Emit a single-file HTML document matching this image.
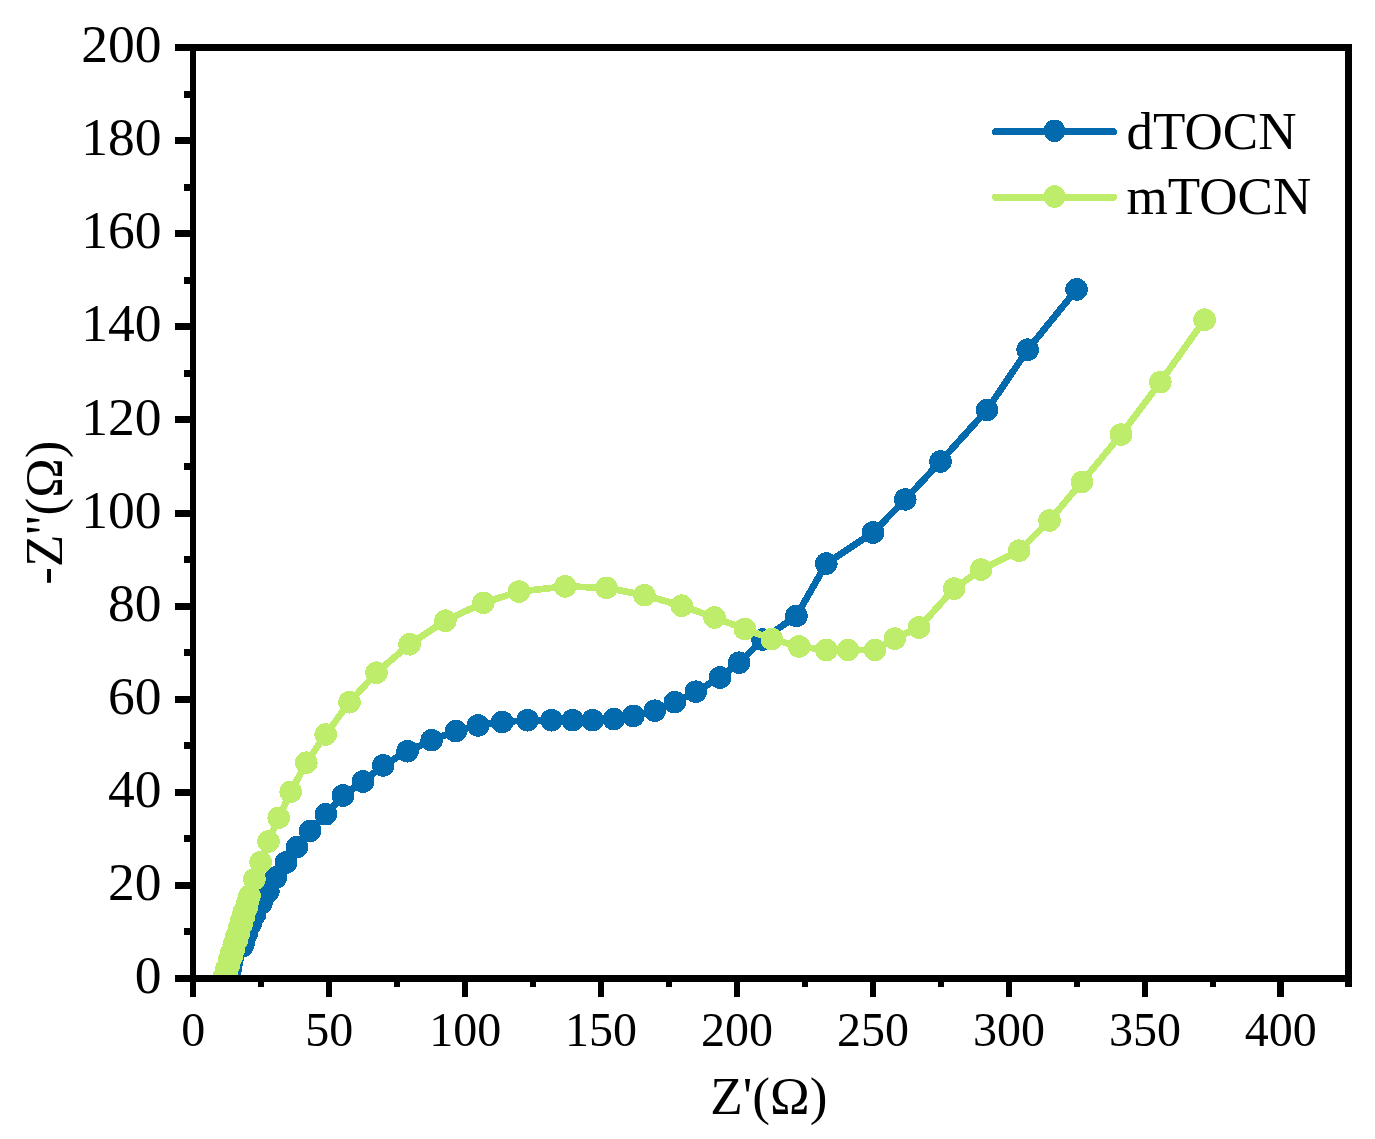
<!DOCTYPE html>
<html lang="en"><head><meta charset="utf-8"><title>Nyquist plot</title>
<style>
html,body{margin:0;padding:0;background:#fff;}
body{width:1375px;height:1139px;overflow:hidden;}
svg{display:block;}
text{font-family:"Liberation Serif","Times New Roman",serif;fill:#000;}
.yt{font-size:52px;text-anchor:end;}
.xt{font-size:48px;text-anchor:middle;}
.ti{font-size:52px;text-anchor:middle;}
.lg{font-size:52px;text-anchor:start;}
</style></head><body>
<svg width="1375" height="1139" viewBox="0 0 1375 1139">
<rect width="1375" height="1139" fill="#fff"/>
<defs><clipPath id="plot"><rect x="193" y="47.5" width="1155.5" height="931"/></clipPath></defs>
<g clip-path="url(#plot)" shape-rendering="crispEdges">
<polyline fill="none" stroke="#036AAD" stroke-width="6.8" stroke-linejoin="round" points="235.8,985.0 242.6,946.0 244.0,941.5 246.5,934.0 250.9,923.5 255.2,914.0 261.4,903.2 268.4,891.5 275.9,877.5 286.0,862.5 296.9,847.1 310.1,830.9 325.9,814.2 343.0,795.5 363.0,781.5 383.2,765.4 407.5,751.3 431.7,740.2 455.9,731.1 478.1,725.4 502.2,722.0 527.5,720.2 551.5,720.2 572.6,720.2 592.6,720.2 613.9,719.1 633.3,715.9 654.8,710.7 674.8,702.2 695.8,691.7 720.0,677.5 739.1,662.7 762.6,639.6 796.4,615.9 826.3,563.6 873.0,532.5 905.3,499.5 940.5,461.5 987.0,410.0 1027.6,349.7 1076.6,289.4"/>
<circle cx="242.6" cy="946.0" r="11.3" fill="#036AAD"/><circle cx="244.0" cy="941.5" r="11.3" fill="#036AAD"/><circle cx="246.5" cy="934.0" r="11.3" fill="#036AAD"/><circle cx="250.9" cy="923.5" r="11.3" fill="#036AAD"/><circle cx="255.2" cy="914.0" r="11.3" fill="#036AAD"/><circle cx="261.4" cy="903.2" r="11.3" fill="#036AAD"/><circle cx="268.4" cy="891.5" r="11.3" fill="#036AAD"/><circle cx="275.9" cy="877.5" r="11.3" fill="#036AAD"/><circle cx="286.0" cy="862.5" r="11.3" fill="#036AAD"/><circle cx="296.9" cy="847.1" r="11.3" fill="#036AAD"/><circle cx="310.1" cy="830.9" r="11.3" fill="#036AAD"/><circle cx="325.9" cy="814.2" r="11.3" fill="#036AAD"/><circle cx="343.0" cy="795.5" r="11.3" fill="#036AAD"/><circle cx="363.0" cy="781.5" r="11.3" fill="#036AAD"/><circle cx="383.2" cy="765.4" r="11.3" fill="#036AAD"/><circle cx="407.5" cy="751.3" r="11.3" fill="#036AAD"/><circle cx="431.7" cy="740.2" r="11.3" fill="#036AAD"/><circle cx="455.9" cy="731.1" r="11.3" fill="#036AAD"/><circle cx="478.1" cy="725.4" r="11.3" fill="#036AAD"/><circle cx="502.2" cy="722.0" r="11.3" fill="#036AAD"/><circle cx="527.5" cy="720.2" r="11.3" fill="#036AAD"/><circle cx="551.5" cy="720.2" r="11.3" fill="#036AAD"/><circle cx="572.6" cy="720.2" r="11.3" fill="#036AAD"/><circle cx="592.6" cy="720.2" r="11.3" fill="#036AAD"/><circle cx="613.9" cy="719.1" r="11.3" fill="#036AAD"/><circle cx="633.3" cy="715.9" r="11.3" fill="#036AAD"/><circle cx="654.8" cy="710.7" r="11.3" fill="#036AAD"/><circle cx="674.8" cy="702.2" r="11.3" fill="#036AAD"/><circle cx="695.8" cy="691.7" r="11.3" fill="#036AAD"/><circle cx="720.0" cy="677.5" r="11.3" fill="#036AAD"/><circle cx="739.1" cy="662.7" r="11.3" fill="#036AAD"/><circle cx="762.6" cy="639.6" r="11.3" fill="#036AAD"/><circle cx="796.4" cy="615.9" r="11.3" fill="#036AAD"/><circle cx="826.3" cy="563.6" r="11.3" fill="#036AAD"/><circle cx="873.0" cy="532.5" r="11.3" fill="#036AAD"/><circle cx="905.3" cy="499.5" r="11.3" fill="#036AAD"/><circle cx="940.5" cy="461.5" r="11.3" fill="#036AAD"/><circle cx="987.0" cy="410.0" r="11.3" fill="#036AAD"/><circle cx="1027.6" cy="349.7" r="11.3" fill="#036AAD"/><circle cx="1076.6" cy="289.4" r="11.3" fill="#036AAD"/>
<polyline fill="none" stroke="#BEED6B" stroke-width="6.8" stroke-linejoin="round" points="221.4,985.0 224.2,981.0 223.9,976.9 226.7,972.9 226.4,968.8 229.2,964.8 228.8,960.7 231.7,956.6 231.3,952.6 234.2,948.5 233.8,944.5 236.7,940.5 236.3,936.4 239.1,932.4 238.8,928.3 241.6,924.2 241.3,920.2 244.1,916.1 243.7,912.1 246.6,908.0 247.0,904.0 248.3,900.0 249.5,895.9 254.4,879.2 260.6,862.2 268.5,841.5 278.7,817.8 290.7,791.8 306.3,762.7 325.7,734.5 349.5,702.2 376.5,672.7 409.6,644.3 445.4,620.7 483.3,602.8 519.0,591.6 565.2,586.4 606.5,587.8 644.4,595.2 681.7,605.7 714.5,617.5 744.8,629.0 771.8,639.1 799.1,646.4 826.3,650.0 848.0,650.0 875.0,650.0 894.8,638.6 919.0,627.5 954.2,588.6 981.1,569.6 1019.1,550.7 1049.5,520.5 1082.0,481.9 1121.0,434.6 1160.3,382.2 1204.6,319.7"/>
<circle cx="221.4" cy="985.0" r="11.3" fill="#BEED6B"/><circle cx="224.2" cy="981.0" r="11.3" fill="#BEED6B"/><circle cx="223.9" cy="976.9" r="11.3" fill="#BEED6B"/><circle cx="226.7" cy="972.9" r="11.3" fill="#BEED6B"/><circle cx="226.4" cy="968.8" r="11.3" fill="#BEED6B"/><circle cx="229.2" cy="964.8" r="11.3" fill="#BEED6B"/><circle cx="228.8" cy="960.7" r="11.3" fill="#BEED6B"/><circle cx="231.7" cy="956.6" r="11.3" fill="#BEED6B"/><circle cx="231.3" cy="952.6" r="11.3" fill="#BEED6B"/><circle cx="234.2" cy="948.5" r="11.3" fill="#BEED6B"/><circle cx="233.8" cy="944.5" r="11.3" fill="#BEED6B"/><circle cx="236.7" cy="940.5" r="11.3" fill="#BEED6B"/><circle cx="236.3" cy="936.4" r="11.3" fill="#BEED6B"/><circle cx="239.1" cy="932.4" r="11.3" fill="#BEED6B"/><circle cx="238.8" cy="928.3" r="11.3" fill="#BEED6B"/><circle cx="241.6" cy="924.2" r="11.3" fill="#BEED6B"/><circle cx="241.3" cy="920.2" r="11.3" fill="#BEED6B"/><circle cx="244.1" cy="916.1" r="11.3" fill="#BEED6B"/><circle cx="243.7" cy="912.1" r="11.3" fill="#BEED6B"/><circle cx="246.6" cy="908.0" r="11.3" fill="#BEED6B"/><circle cx="247.0" cy="904.0" r="11.3" fill="#BEED6B"/><circle cx="248.3" cy="900.0" r="11.3" fill="#BEED6B"/><circle cx="249.5" cy="895.9" r="11.3" fill="#BEED6B"/><circle cx="254.4" cy="879.2" r="11.3" fill="#BEED6B"/><circle cx="260.6" cy="862.2" r="11.3" fill="#BEED6B"/><circle cx="268.5" cy="841.5" r="11.3" fill="#BEED6B"/><circle cx="278.7" cy="817.8" r="11.3" fill="#BEED6B"/><circle cx="290.7" cy="791.8" r="11.3" fill="#BEED6B"/><circle cx="306.3" cy="762.7" r="11.3" fill="#BEED6B"/><circle cx="325.7" cy="734.5" r="11.3" fill="#BEED6B"/><circle cx="349.5" cy="702.2" r="11.3" fill="#BEED6B"/><circle cx="376.5" cy="672.7" r="11.3" fill="#BEED6B"/><circle cx="409.6" cy="644.3" r="11.3" fill="#BEED6B"/><circle cx="445.4" cy="620.7" r="11.3" fill="#BEED6B"/><circle cx="483.3" cy="602.8" r="11.3" fill="#BEED6B"/><circle cx="519.0" cy="591.6" r="11.3" fill="#BEED6B"/><circle cx="565.2" cy="586.4" r="11.3" fill="#BEED6B"/><circle cx="606.5" cy="587.8" r="11.3" fill="#BEED6B"/><circle cx="644.4" cy="595.2" r="11.3" fill="#BEED6B"/><circle cx="681.7" cy="605.7" r="11.3" fill="#BEED6B"/><circle cx="714.5" cy="617.5" r="11.3" fill="#BEED6B"/><circle cx="744.8" cy="629.0" r="11.3" fill="#BEED6B"/><circle cx="771.8" cy="639.1" r="11.3" fill="#BEED6B"/><circle cx="799.1" cy="646.4" r="11.3" fill="#BEED6B"/><circle cx="826.3" cy="650.0" r="11.3" fill="#BEED6B"/><circle cx="848.0" cy="650.0" r="11.3" fill="#BEED6B"/><circle cx="875.0" cy="650.0" r="11.3" fill="#BEED6B"/><circle cx="894.8" cy="638.6" r="11.3" fill="#BEED6B"/><circle cx="919.0" cy="627.5" r="11.3" fill="#BEED6B"/><circle cx="954.2" cy="588.6" r="11.3" fill="#BEED6B"/><circle cx="981.1" cy="569.6" r="11.3" fill="#BEED6B"/><circle cx="1019.1" cy="550.7" r="11.3" fill="#BEED6B"/><circle cx="1049.5" cy="520.5" r="11.3" fill="#BEED6B"/><circle cx="1082.0" cy="481.9" r="11.3" fill="#BEED6B"/><circle cx="1121.0" cy="434.6" r="11.3" fill="#BEED6B"/><circle cx="1160.3" cy="382.2" r="11.3" fill="#BEED6B"/><circle cx="1204.6" cy="319.7" r="11.3" fill="#BEED6B"/>
</g>
<g fill="#000" shape-rendering="crispEdges">
<rect x="175" y="44" width="1177" height="7"/>
<rect x="175" y="975" width="1177" height="7"/>
<rect x="190" y="44" width="6" height="953"/>
<rect x="1345" y="44" width="7" height="943"/>
<rect x="175" y="882" width="15" height="7"/><rect x="175" y="789" width="15" height="7"/><rect x="175" y="696" width="15" height="7"/><rect x="175" y="603" width="15" height="7"/><rect x="175" y="510" width="15" height="7"/><rect x="175" y="416" width="15" height="7"/><rect x="175" y="323" width="15" height="7"/><rect x="175" y="230" width="15" height="7"/><rect x="175" y="137" width="15" height="7"/><rect x="184" y="928" width="6" height="7"/><rect x="184" y="835" width="6" height="7"/><rect x="184" y="742" width="6" height="7"/><rect x="184" y="649" width="6" height="7"/><rect x="184" y="556" width="6" height="7"/><rect x="184" y="463" width="6" height="7"/><rect x="184" y="370" width="6" height="7"/><rect x="184" y="277" width="6" height="7"/><rect x="184" y="184" width="6" height="7"/><rect x="184" y="91" width="6" height="7"/>
<rect x="326" y="982" width="6" height="15"/><rect x="462" y="982" width="6" height="15"/><rect x="598" y="982" width="6" height="15"/><rect x="734" y="982" width="6" height="15"/><rect x="870" y="982" width="6" height="15"/><rect x="1006" y="982" width="6" height="15"/><rect x="1142" y="982" width="6" height="15"/><rect x="1277" y="982" width="7" height="15"/><rect x="258" y="982" width="6" height="5"/><rect x="394" y="982" width="6" height="5"/><rect x="530" y="982" width="6" height="5"/><rect x="666" y="982" width="6" height="5"/><rect x="802" y="982" width="6" height="5"/><rect x="938" y="982" width="6" height="5"/><rect x="1074" y="982" width="6" height="5"/><rect x="1210" y="982" width="6" height="5"/>
</g>
<text class="yt" transform="translate(161.6,993.1) scale(1.03,1)">0</text><text class="yt" transform="translate(161.6,900.0) scale(1.03,1)">20</text><text class="yt" transform="translate(161.6,806.9) scale(1.03,1)">40</text><text class="yt" transform="translate(161.6,713.8) scale(1.03,1)">60</text><text class="yt" transform="translate(161.6,620.7) scale(1.03,1)">80</text><text class="yt" transform="translate(161.6,527.6) scale(1.03,1)">100</text><text class="yt" transform="translate(161.6,434.5) scale(1.03,1)">120</text><text class="yt" transform="translate(161.6,341.4) scale(1.03,1)">140</text><text class="yt" transform="translate(161.6,248.3) scale(1.03,1)">160</text><text class="yt" transform="translate(161.6,155.2) scale(1.03,1)">180</text><text class="yt" transform="translate(161.6,62.1) scale(1.03,1)">200</text>
<text class="xt" x="193.3" y="1046">0</text><text class="xt" x="329.2" y="1046">50</text><text class="xt" x="465.2" y="1046">100</text><text class="xt" x="601.1" y="1046">150</text><text class="xt" x="737.0" y="1046">200</text><text class="xt" x="873.0" y="1046">250</text><text class="xt" x="1008.9" y="1046">300</text><text class="xt" x="1144.9" y="1046">350</text><text class="xt" x="1280.8" y="1046">400</text>
<text class="ti" transform="translate(768.8,1113.7) scale(1.025,1)">Z'(Ω)</text>
<text class="ti" transform="translate(61.6,512.7) rotate(-90) scale(1.022,1)">-Z''(Ω)</text>
<g shape-rendering="crispEdges"><line x1="995.5" y1="131.5" x2="1113.5" y2="131.5" stroke="#036AAD" stroke-width="7" stroke-linecap="round"/><ellipse cx="1054.5" cy="130.9" rx="10.8" ry="11.3" fill="#036AAD"/>
<line x1="995.5" y1="197.2" x2="1113.5" y2="197.2" stroke="#BEED6B" stroke-width="7" stroke-linecap="round"/><ellipse cx="1054.5" cy="196.6" rx="10.8" ry="11.3" fill="#BEED6B"/>
</g>
<text class="lg" transform="translate(1126.6,148.8) scale(1.02,1)">dTOCN</text>
<text class="lg" transform="translate(1126.6,214.2) scale(1.02,1)">mTOCN</text>
</svg>
</body></html>
